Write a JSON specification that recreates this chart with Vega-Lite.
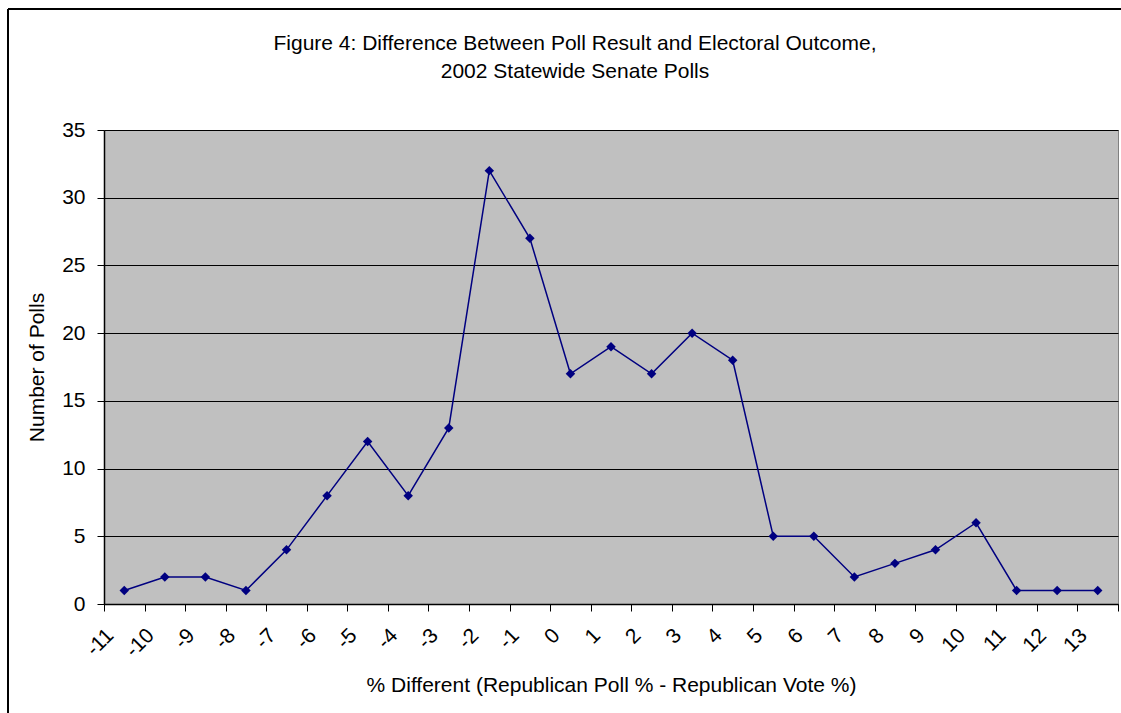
{
  "$schema": "https://vega.github.io/schema/vega-lite/v6.json",
  "width": 1014,
  "height": 474,
  "autosize": {"type": "none"},
  "padding": {"left": 104, "top": 130, "right": 3, "bottom": 109},
  "background": "#ffffff",
  "title": {
    "text": ["Figure 4: Difference Between Poll Result and Electoral Outcome,", "2002 Statewide Senate Polls"],
    "anchor": "middle",
    "frame": "group",
    "dx": -36,
    "offset": -91,
    "baseline": "alphabetic",
    "font": "Liberation Sans",
    "fontSize": 21,
    "fontWeight": "normal",
    "color": "#000000",
    "lineHeight": 28
  },
  "config": {
    "view": {"fill": "#C0C0C0", "stroke": "#808080", "strokeWidth": 1},
    "axis": {
      "labelFont": "Liberation Sans",
      "titleFont": "Liberation Sans",
      "labelFontSize": 21,
      "titleFontSize": 21,
      "titleFontWeight": "normal",
      "labelColor": "#000000",
      "titleColor": "#000000",
      "domainColor": "#000000",
      "tickColor": "#000000",
      "domainWidth": 1.5,
      "tickWidth": 1
    }
  },
  "data": {
    "values": [
      {"pct_diff": -10.5, "polls": 1},
      {"pct_diff": -9.5, "polls": 2},
      {"pct_diff": -8.5, "polls": 2},
      {"pct_diff": -7.5, "polls": 1},
      {"pct_diff": -6.5, "polls": 4},
      {"pct_diff": -5.5, "polls": 8},
      {"pct_diff": -4.5, "polls": 12},
      {"pct_diff": -3.5, "polls": 8},
      {"pct_diff": -2.5, "polls": 13},
      {"pct_diff": -1.5, "polls": 32},
      {"pct_diff": -0.5, "polls": 27},
      {"pct_diff": 0.5, "polls": 17},
      {"pct_diff": 1.5, "polls": 19},
      {"pct_diff": 2.5, "polls": 17},
      {"pct_diff": 3.5, "polls": 20},
      {"pct_diff": 4.5, "polls": 18},
      {"pct_diff": 5.5, "polls": 5},
      {"pct_diff": 6.5, "polls": 5},
      {"pct_diff": 7.5, "polls": 2},
      {"pct_diff": 8.5, "polls": 3},
      {"pct_diff": 9.5, "polls": 4},
      {"pct_diff": 10.5, "polls": 6},
      {"pct_diff": 11.5, "polls": 1},
      {"pct_diff": 12.5, "polls": 1},
      {"pct_diff": 13.5, "polls": 1}
    ]
  },
  "encoding": {
    "x": {
      "field": "pct_diff",
      "type": "quantitative",
      "scale": {"domain": [-11, 14], "nice": false, "zero": false},
      "axis": {
        "title": "% Different (Republican Poll % - Republican Vote %)",
        "values": [-11, -10, -9, -8, -7, -6, -5, -4, -3, -2, -1, 0, 1, 2, 3, 4, 5, 6, 7, 8, 9, 10, 11, 12, 13, 14],
        "labelExpr": "datum.value == 14 ? '' : '' + datum.value",
        "labelAngle": -45,
        "labelAlign": "right",
        "labelBaseline": "middle",
        "labelOffset": 6,
        "labelPadding": 21,
        "tickSize": 7,
        "grid": false,
        "labelOverlap": false,
        "titlePadding": 14
      }
    },
    "y": {
      "field": "polls",
      "type": "quantitative",
      "scale": {"domain": [0, 35], "nice": false, "zero": true},
      "axis": {
        "title": "Number of Polls",
        "values": [0, 5, 10, 15, 20, 25, 30, 35],
        "tickSize": 7,
        "labelPadding": 12,
        "grid": true,
        "gridColor": "#000000",
        "gridWidth": 1,
        "titlePadding": 14
      }
    }
  },
  "layer": [
    {
      "mark": {"type": "rule", "color": "#000000", "strokeWidth": 1.5, "clip": false},
      "encoding": {
        "x": {"datum": -13.367},
        "y": {"datum": 43.93},
        "y2": {"datum": -9}
      }
    },
    {
      "mark": {"type": "rule", "color": "#000000", "strokeWidth": 1.5, "clip": false},
      "encoding": {
        "x": {"datum": -13.367},
        "x2": {"datum": 14.1},
        "y": {"datum": 43.93}
      }
    },
    {
      "mark": {"type": "line", "color": "#000080", "strokeWidth": 1.5}
    },
    {
      "mark": {"type": "point", "shape": "diamond", "filled": true, "color": "#000080", "size": 90, "opacity": 1}
    }
  ]
}
